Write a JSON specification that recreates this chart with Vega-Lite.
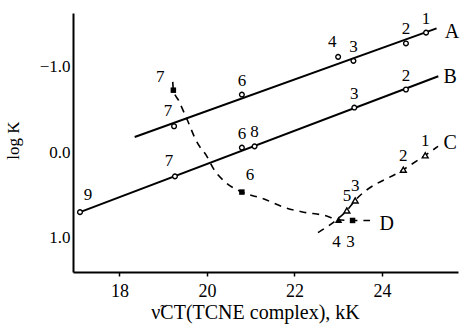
{
  "$schema": "https://vega.github.io/schema/vega-lite/v6.json",
  "width": 385,
  "height": 259,
  "autosize": {"type": "none"},
  "padding": {"left": 73, "top": 13, "right": 2, "bottom": 56},
  "background": "white",
  "config": {
    "view": {"stroke": null},
    "font": "Liberation Serif",
    "axis": {
      "grid": false,
      "domainColor": "black",
      "domainWidth": 2,
      "tickColor": "black",
      "tickWidth": 1.5,
      "labelColor": "black",
      "titleColor": "black",
      "labelFont": "Liberation Serif",
      "titleFont": "Liberation Serif",
      "titleFontWeight": "normal"
    }
  },
  "datasets": {
    "lines": [
      {"series": "A", "x": 18.35, "y": -0.18},
      {"series": "A", "x": 25.25, "y": -1.45},
      {"series": "B", "x": 17.10, "y": 0.70},
      {"series": "B", "x": 25.29, "y": -0.89},
      {"series": "C", "x": 22.54, "y": 0.94},
      {"series": "C", "x": 23.01, "y": 0.77},
      {"series": "C", "x": 23.20, "y": 0.68},
      {"series": "C", "x": 23.39, "y": 0.563},
      {"series": "C", "x": 24.49, "y": 0.203},
      {"series": "C", "x": 24.99, "y": 0.035},
      {"series": "C", "x": 25.285, "y": -0.07},
      {"series": "D", "x": 19.22, "y": -0.824},
      {"series": "D", "x": 19.234, "y": -0.727},
      {"series": "D", "x": 19.35, "y": -0.61},
      {"series": "D", "x": 19.555, "y": -0.375},
      {"series": "D", "x": 19.77, "y": -0.121},
      {"series": "D", "x": 20.01, "y": 0.055},
      {"series": "D", "x": 20.15, "y": 0.191},
      {"series": "D", "x": 20.42, "y": 0.348},
      {"series": "D", "x": 20.80, "y": 0.465},
      {"series": "D", "x": 21.29, "y": 0.543},
      {"series": "D", "x": 21.75, "y": 0.641},
      {"series": "D", "x": 22.21, "y": 0.70},
      {"series": "D", "x": 22.70, "y": 0.739},
      {"series": "D", "x": 23.01, "y": 0.789},
      {"series": "D", "x": 23.33, "y": 0.797},
      {"series": "D", "x": 23.73, "y": 0.797}
    ],
    "points": [
      {"series": "A", "label": "7", "x": 19.25, "y": -0.305, "pos": "upleft"},
      {"series": "A", "label": "6", "x": 20.80, "y": -0.676, "pos": "above"},
      {"series": "A", "label": "4", "x": 23.00, "y": -1.117, "pos": "upleft"},
      {"series": "A", "label": "3", "x": 23.35, "y": -1.07, "pos": "above"},
      {"series": "A", "label": "2", "x": 24.55, "y": -1.274, "pos": "above"},
      {"series": "A", "label": "1", "x": 25.01, "y": -1.40, "pos": "above"},
      {"series": "B", "label": "9", "x": 17.10, "y": 0.70, "pos": "upright"},
      {"series": "B", "label": "7", "x": 19.27, "y": 0.281, "pos": "upleft"},
      {"series": "B", "label": "6", "x": 20.80, "y": -0.055, "pos": "above"},
      {"series": "B", "label": "8", "x": 21.09, "y": -0.07, "pos": "above"},
      {"series": "B", "label": "3", "x": 23.37, "y": -0.524, "pos": "above"},
      {"series": "B", "label": "2", "x": 24.55, "y": -0.735, "pos": "above"},
      {"series": "C", "label": "5", "x": 23.20, "y": 0.68, "pos": "above"},
      {"series": "C", "label": "3", "x": 23.39, "y": 0.563, "pos": "above"},
      {"series": "C", "label": "2", "x": 24.49, "y": 0.203, "pos": "above"},
      {"series": "C", "label": "1", "x": 24.99, "y": 0.035, "pos": "above"},
      {"series": "CD", "label": "4", "x": 23.01, "y": 0.789, "pos": "below"},
      {"series": "D", "label": "7", "x": 19.234, "y": -0.727, "pos": "left"},
      {"series": "D", "label": "6", "x": 20.80, "y": 0.465, "pos": "upright"},
      {"series": "D", "label": "3", "x": 23.33, "y": 0.797, "pos": "below"}
    ],
    "letters": [
      {"label": "A", "x": 25.60, "y": -1.41},
      {"label": "B", "x": 25.56, "y": -0.879},
      {"label": "C", "x": 25.56, "y": -0.11},
      {"label": "D", "x": 24.11, "y": 0.836}
    ],
    "yticks": [
      {"y": -1},
      {"y": 0},
      {"y": 1}
    ]
  },
  "encoding": {
    "x": {
      "field": "x", "type": "quantitative",
      "scale": {"domain": [16.94, 25.74], "nice": false, "zero": false},
      "axis": {"values": [18, 20, 22, 24], "title": "\u03bd\u0303CT(TCNE complex), kK", "labelFontSize": 18, "titleFontSize": 20, "tickSize": 4, "labelPadding": 6, "titlePadding": 2, "labelFlush": false, "titleX": 182}
    },
    "y": {
      "field": "y", "type": "quantitative",
      "scale": {"domain": [-1.63, 1.40], "reverse": true, "nice": false, "zero": false},
      "axis": {"values": [-1, 0, 1], "format": ".1f", "title": "log K", "labelFontSize": 17, "titleFontSize": 17, "ticks": false, "labelPadding": 3, "titleX": -60, "titleY": 127, "titleAngle": 270, "titleBaseline": "middle", "titleAlign": "center"}
    }
  },
  "layer": [
    {
      "data": {"name": "yticks"},
      "mark": {"type": "rule", "color": "black", "strokeWidth": 1.5},
      "encoding": {
        "x": {"datum": 16.94, "type": "quantitative"},
        "x2": {"datum": 17.08},
        "y": {"field": "y", "type": "quantitative"}
      }
    },
    {
      "data": {"name": "lines"},
      "transform": [{"filter": "datum.series === 'A' || datum.series === 'B'"}],
      "mark": {"type": "line", "color": "black", "strokeWidth": 2},
      "encoding": {"detail": {"field": "series"}}
    },
    {
      "data": {"name": "lines"},
      "transform": [{"filter": "datum.series === 'C' || datum.series === 'D'"}],
      "mark": {"type": "line", "color": "black", "strokeWidth": 1.6, "strokeDash": [7, 6], "interpolate": "monotone"},
      "encoding": {"detail": {"field": "series"}}
    },
    {
      "data": {"name": "points"},
      "transform": [{"filter": "datum.series === 'A' || datum.series === 'B'"}],
      "mark": {"type": "point", "shape": "circle", "filled": true, "fill": "white", "stroke": "black", "strokeWidth": 1.4, "size": 22, "opacity": 1}
    },
    {
      "data": {"name": "points"},
      "transform": [{"filter": "datum.series === 'C'"}],
      "mark": {"type": "point", "shape": "triangle-up", "filled": true, "fill": "white", "stroke": "black", "strokeWidth": 1.4, "size": 35, "opacity": 1}
    },
    {
      "data": {"name": "points"},
      "transform": [{"filter": "datum.series === 'D'"}],
      "mark": {"type": "point", "shape": "square", "filled": true, "color": "black", "size": 30, "opacity": 1}
    },
    {
      "data": {"name": "points"},
      "transform": [{"filter": "datum.series === 'CD'"}],
      "mark": {"type": "point", "shape": "triangle-up", "filled": true, "color": "black", "size": 55, "opacity": 1}
    },
    {
      "data": {"name": "points"},
      "transform": [{"filter": "datum.pos === 'above'"}],
      "mark": {"type": "text", "fontSize": 17, "font": "Liberation Serif", "color": "black", "align": "center", "baseline": "middle", "dy": -14},
      "encoding": {"text": {"field": "label"}}
    },
    {
      "data": {"name": "points"},
      "transform": [{"filter": "datum.pos === 'upleft'"}],
      "mark": {"type": "text", "fontSize": 17, "font": "Liberation Serif", "color": "black", "align": "center", "baseline": "middle", "dx": -6, "dy": -15},
      "encoding": {"text": {"field": "label"}}
    },
    {
      "data": {"name": "points"},
      "transform": [{"filter": "datum.pos === 'upright'"}],
      "mark": {"type": "text", "fontSize": 17, "font": "Liberation Serif", "color": "black", "align": "center", "baseline": "middle", "dx": 8, "dy": -17},
      "encoding": {"text": {"field": "label"}}
    },
    {
      "data": {"name": "points"},
      "transform": [{"filter": "datum.pos === 'below'"}],
      "mark": {"type": "text", "fontSize": 17, "font": "Liberation Serif", "color": "black", "align": "center", "baseline": "middle", "dx": -2, "dy": 22},
      "encoding": {"text": {"field": "label"}}
    },
    {
      "data": {"name": "points"},
      "transform": [{"filter": "datum.pos === 'left'"}],
      "mark": {"type": "text", "fontSize": 17, "font": "Liberation Serif", "color": "black", "align": "center", "baseline": "middle", "dx": -13, "dy": -13},
      "encoding": {"text": {"field": "label"}}
    },
    {
      "data": {"name": "letters"},
      "mark": {"type": "text", "fontSize": 20, "font": "Liberation Serif", "color": "black", "align": "center", "baseline": "middle"},
      "encoding": {"text": {"field": "label"}}
    }
  ]
}
